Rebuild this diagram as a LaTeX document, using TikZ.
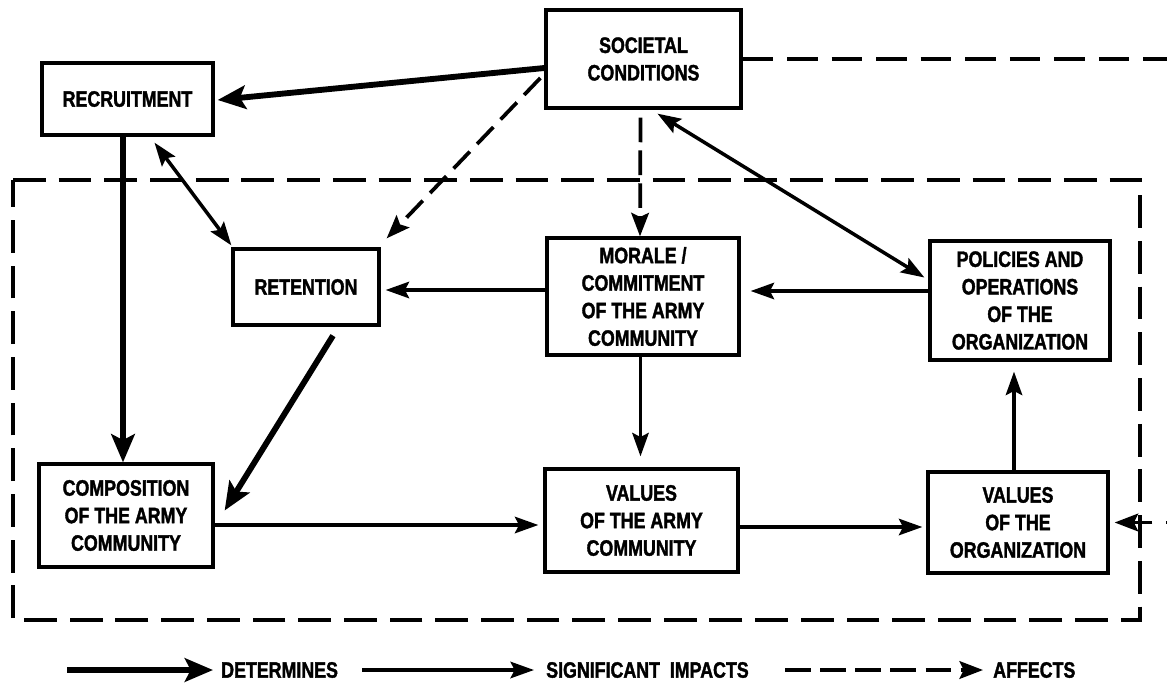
\documentclass[tikz,border=0pt]{standalone}
\usepackage{fontspec}
\newfontfamily\labfont{Liberation Sans Bold}[FakeStretch=0.8, FakeBold=1.6]
\usetikzlibrary{arrows.meta,calc}
\tikzset{
  box/.style 2 args={draw, line width=2.8pt, align=center, inner sep=2pt,
    minimum width=#1*0.03cm, minimum height=#2*0.03cm,
    font=\fontsize{19}{23.5}\selectfont\labfont},
  lbl/.style={anchor=west, inner sep=0pt, font=\fontsize{19}{23}\selectfont\labfont},
  det/.style={line width=5pt, -{Stealth[length=24pt,width=20pt,inset=5pt]}},
  imp/.style={line width=3pt, -{Stealth[length=20pt,width=14pt,inset=3.5pt]}},
  impb/.style={line width=3pt, {Stealth[length=20pt,width=14pt,inset=3.5pt]}-{Stealth[length=20pt,width=14pt,inset=3.5pt]}},
  aff/.style={line width=3.2pt, dash pattern=on 22pt off 9pt, -{Stealth[length=20pt,width=15pt,inset=3.5pt]}},
  bound/.style={line width=3.6pt, dash pattern=on 28pt off 11pt},
}
\begin{document}
\begin{tikzpicture}[x=0.03cm, y=-0.03cm]
\useasboundingbox (0,0) rectangle (1167,687);
\clip (0,0) rectangle (1167,687);
\fill[white] (0,0) rectangle (1167,687);

% system boundary
\draw[bound] (13,180) -- (1140,180) -- (1140,620) -- (13,620) -- cycle;

% nodes
\node[box={195}{98}]  (soc)  at (643.5,59)  {SOCIETAL\\CONDITIONS};
\node[box={171}{72}]  (rec)  at (127.5,99)  {RECRUITMENT};
\node[box={146}{76}]  (ret)  at (306,287)   {RETENTION};
\node[box={192}{117}] (mor)  at (643,296.5) {MORALE /\\COMMITMENT\\OF THE ARMY\\COMMUNITY};
\node[box={180}{119}] (pol)  at (1020,300.5){POLICIES AND\\OPERATIONS\\OF THE\\ORGANIZATION};
\node[box={174}{103}] (comp) at (126,515.5) {COMPOSITION\\OF THE ARMY\\COMMUNITY};
\node[box={193}{103}] (va)   at (641.5,520.5){VALUES\\OF THE ARMY\\COMMUNITY};
\node[box={180}{101}] (vo)   at (1018,522.5){VALUES\\OF THE\\ORGANIZATION};

\coordinate (far) at (1250,0);

% connectors
\draw[det] ($(soc.west)+(0,9)$) -- ($(rec.east)+(3,1)$);
\draw[aff, dash pattern=on 20pt off 9pt] ($(soc.west)+(-4,19)$) -- ($(ret.north east)+(6,-9)$);
\draw[aff, dash pattern=on 21pt off 7pt] ($(soc.south)+(-3,8)$) -- ($(mor.north)+(-3,0)$);
\draw[impb] ($(soc.south)+(14,4)$) -- ($(pol.west)+(-4,-23)$);
\draw[impb] ($(rec.south)+(27,6)$) -- ($(ret.north west)+(0,-2)$);
\draw[det] ($(rec.south)+(-4.5,0)$) -- ($(comp.north)+(-3,0)$);
\draw[det] ($(ret.south)+(27,9)$) -- ($(comp.east)+(10,-5)$);
\draw[imp] ($(mor.west)+(0,-6.5)$) -- ($(ret.east)+(5,3)$);
\draw[imp] ($(pol.west)+(0,-9.5)$) -- ($(mor.east)+(10,-5.5)$);
\draw[imp] ($(mor.south)+(-2.5,0)$) -- ($(va.north)+(-1,-11)$);
\draw[imp] ($(comp.east)+(0,9.5)$) -- ($(va.west)+(-5,4.5)$);
\draw[imp] ($(va.east)+(0,6.5)$) -- ($(vo.west)+(-4,4.5)$);
\draw[imp] ($(vo.north)+(-4,0)$) -- ($(pol.south)+(-6,10)$);
\draw[aff, dash pattern=on 26pt off 12pt] (soc.east) -- (soc.east -| far) -- (far |- vo.east) -- ($(vo.east)+(5,0)$);

% legend
\node[lbl] (tdet) at (221,670) {DETERMINES};
\node[lbl] (timp) at (546,670) {SIGNIFICANT\ \ IMPACTS};
\node[lbl] (taff) at (993,670) {AFFECTS};
\coordinate (l1) at (67,670);
\coordinate (l2) at (362,670);
\coordinate (l3) at (785,670);
\draw[det] (l1) -- ($(tdet.west)+(-8,0)$);
\draw[imp] (l2) -- ($(timp.west)+(-12,0)$);
\draw[aff, dash pattern=on 22pt off 8pt] (l3) -- ($(taff.west)+(-10,0)$);
\end{tikzpicture}
\end{document}
